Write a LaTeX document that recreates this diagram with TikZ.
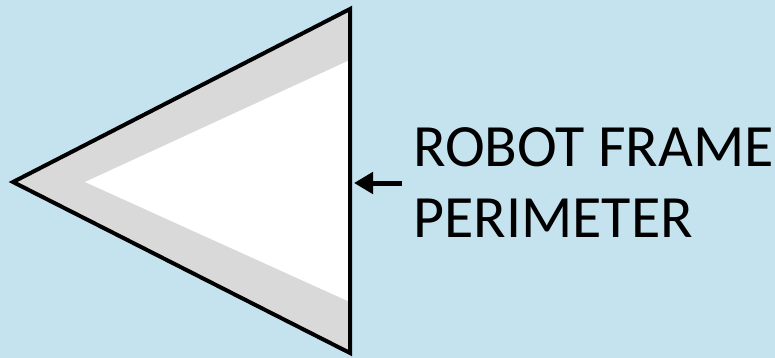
\documentclass[tikz,border=0pt]{standalone}
\usepackage{fontspec}
\setmainfont{Carlito}
\usetikzlibrary{arrows.meta}
\definecolor{bgblue}{RGB}{197,227,239}
\definecolor{bandgray}{RGB}{217,217,217}
\tikzset{
  label text/.style={anchor=base west, inner sep=0pt, font=\fontsize{60}{70}\selectfont},
  pointer/.style={line width=5pt, -{Triangle[length=19pt,width=21pt]}},
  frame line/.style={line width=4pt, line join=miter}
}
\begin{document}
\begin{tikzpicture}[x=1pt,y=-1pt]
\fill[bgblue] (0,0) rectangle (775,358);
\useasboundingbox (0,0) rectangle (775,358);
% outer frame
\coordinate (L) at (13,182);
\coordinate (T) at (350,9);
\coordinate (B) at (350,353);
\fill[bandgray] (L) -- (T) -- (B) -- cycle;
% inner white region
\coordinate (iL) at (85,182);
\coordinate (iT) at (350,60);
\coordinate (iB) at (350,302);
\fill[white] (iL) -- (iT) -- (iB) -- cycle;
\draw[frame line] (L) -- (T) -- (B) -- cycle;
% arrow
\coordinate (arrowstart) at (402,183);
\coordinate (arrowtip) at (354,183);
\draw[pointer] (arrowstart) -- (arrowtip);
% text
\node[label text] (line1) at (413,167) {ROBOT FRAME};
\node[label text] (line2) at (413,237) {PERIMETER};
\end{tikzpicture}
\end{document}
